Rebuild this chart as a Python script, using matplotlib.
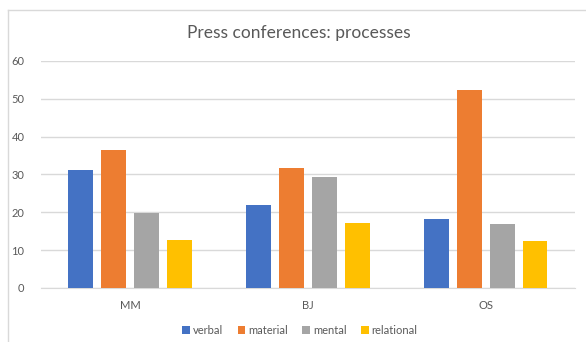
import matplotlib.pyplot as plt
from matplotlib.lines import Line2D
import numpy as np

plt.rcParams['font.family'] = ['Lato', 'DejaVu Sans']

categories = ['MM', 'BJ', 'OS']
series = ['verbal', 'material', 'mental', 'relational']
verbal = [31.2, 22.0, 18.2]
material = [36.5, 31.7, 52.2]
mental = [19.8, 29.4, 16.9]
relational = [12.7, 17.1, 12.4]
colors = ['#4472C4', '#ED7D31', '#A5A5A5', '#FFC000']
text_col = '#595959'

fig = plt.figure(figsize=(5.86, 3.42), dpi=100)
ax = fig.add_axes([0.070, 0.158, 0.911, 0.664])

x = np.arange(len(categories))
step = 0.184
width = 0.14
for i, (name, vals) in enumerate(zip(series, [verbal, material, mental, relational])):
    ax.bar(x + (i - 1.5) * step, vals, width, color=colors[i], label=name, zorder=3)

ax.set_xlim(-0.5, 2.5)
ax.set_ylim(0, 60)
ax.set_yticks(range(0, 61, 10))
ax.set_xticks(x)
ax.set_xticklabels(categories)
ax.grid(axis='y', color='#D9D9D9', linewidth=1, zorder=0)
for s in ['top', 'right', 'left']:
    ax.spines[s].set_visible(False)
ax.spines['bottom'].set_color('#D9D9D9')
ax.tick_params(axis='both', length=0, labelsize=8, colors=text_col)
ax.tick_params(axis='x', pad=9)
ax.tick_params(axis='y', pad=12)

fig.text(0.510, 0.903, 'Press conferences: processes', ha='center', va='center',
         fontsize=12.5, color=text_col)

fig.legend(loc='center', bbox_to_anchor=(0.512, 0.035), ncol=4, frameon=False,
           fontsize=8, labelcolor=text_col, handlelength=0.7, handleheight=0.7,
           handletextpad=0.25, columnspacing=1.3)

# chart border (cropped at right and bottom)
fig.add_artist(Line2D([8 / 586, 8 / 586], [0, 1 - 10 / 342], transform=fig.transFigure,
                      color='#D9D9D9', linewidth=1))
fig.add_artist(Line2D([8 / 586, 1], [1 - 10 / 342, 1 - 10 / 342], transform=fig.transFigure,
                      color='#D9D9D9', linewidth=1))

plt.savefig('out.png', dpi=100)
